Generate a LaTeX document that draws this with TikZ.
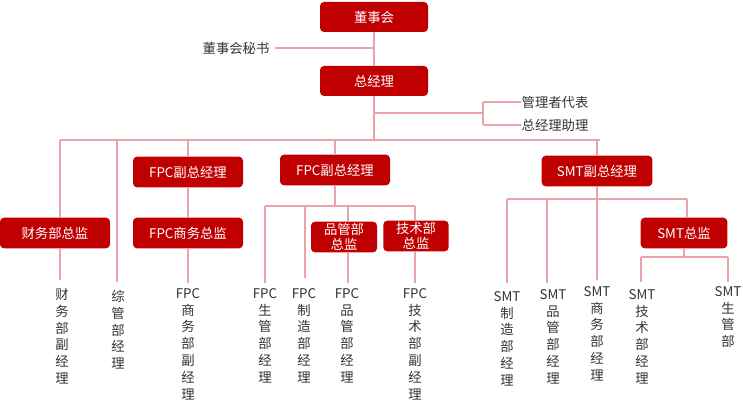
\documentclass[tikz,border=0pt]{standalone}
\usepackage{fontspec}
\newfontfamily\cjk{Noto Sans CJK SC}
\definecolor{boxred}{HTML}{C00000}
\definecolor{linepink}{HTML}{EBA3AA}
\begin{document}
\begin{tikzpicture}[x=0.75pt,y=-0.75pt,
    box/.style={fill=boxred,rounded corners=3pt,text=white,font=\cjk\fontsize{10}{11}\selectfont,inner sep=0pt},
    lab/.style={font=\cjk\fontsize{10}{12.6}\selectfont,text=black!80,align=center,inner sep=0pt,anchor=north},
    side/.style={font=\cjk\fontsize{10}{12}\selectfont,text=black!80,inner sep=0pt},
    link/.style={draw=linepink,line width=0.9pt}]
    \useasboundingbox (0,0) rectangle (743,403);
    % top
    \node[box,minimum width=81pt,minimum height=22.5pt] (board) at (374,17) {董事会};
    \node[box,minimum width=81pt,minimum height=22.5pt] (gm) at (374,81) {总经理};
    \node[side] (sec) at (236,48) {董事会秘书};
    \node[side] (rep) at (555,102) {管理者代表};
    \node[side] (asst) at (555,125) {总经理助理};
    \coordinate (secj) at (374,48);
    \coordinate (repj) at (374,113);
    \coordinate (brk) at (483,113);
    \draw[link] (board) -- (gm);
    \draw[link] (sec.east) ++(4pt,0) -- (secj);
    \draw[link] (repj) -- (brk);
    \draw[link] (483,102) -- (483,125);
    \draw[link] (483,102) -- (rep.west);
    \draw[link] (483,125) -- (asst.west);
    % level 2
    \node[box,minimum width=82.5pt,minimum height=23pt] (fin) at (55,233) {财务部总监};
    \node[box,minimum width=82.5pt,minimum height=23pt] (fvpa) at (188,172) {FPC副总经理};
    \node[box,minimum width=82.5pt,minimum height=23pt] (fbiz) at (188,233) {FPC商务总监};
    \node[box,minimum width=82.5pt,minimum height=23pt] (fvpb) at (335,170) {FPC副总经理};
    \node[box,minimum width=83pt,minimum height=23pt] (svp) at (597,171) {SMT副总经理};
    \node[box,minimum width=49.5pt,minimum height=23pt,align=center,font=\cjk\fontsize{10}{11.5}\selectfont] (qual) at (344,237) {品管部\\总监};
    \node[box,minimum width=49pt,minimum height=23pt,align=center,font=\cjk\fontsize{10}{11.5}\selectfont] (tech) at (416,236) {技术部\\总监};
    \node[box,minimum width=65pt,minimum height=23pt] (sdir) at (684,233) {SMT总监};
    \coordinate (bus) at (374,140);
    \draw[link] (gm) -- (bus);
    \draw[link] (60,140) -- (600,140);
    \draw[link] (60,140) -- (60,217);
    \draw[link] (117,140) -- (117,282) coordinate (zg);
    \draw[link] (188,140) -- (fvpa);
    \draw[link] (fvpa) -- (fbiz);
    \draw[link] (335,140) -- (fvpb);
    \draw[link] (597,140) -- (svp);
    % FPC branch
    \draw[link] (fvpb) -- (335,206);
    \draw[link] (265,206) -- (415,206);
    \draw[link] (265,206) -- (265,283);
    \draw[link] (305,206) -- (305,278);
    \draw[link] (348,206) -- (348,222);
    \draw[link] (415,206) -- (415,221);
    \draw[link] (60,248) -- (60,280);
    \draw[link] (fbiz) -- (188,283);
    \draw[link] (348,253) -- (348,283);
    \draw[link] (415,252) -- (415,283);
    % SMT branch
    \draw[link] (svp) -- (597,280);
    \draw[link] (507,199) -- (687,199);
    \draw[link] (507,199) -- (507,283);
    \draw[link] (547,199) -- (547,283);
    \draw[link] (687,199) -- (687,218);
    \draw[link] (sdir) -- (684,257);
    \draw[link] (641,257) -- (728,257);
    \draw[link] (641,257) -- (641,282);
    \draw[link] (728,257) -- (728,282);
    % bottom labels
    \node[lab] (t1) at (62,288) {财\\务\\部\\副\\经\\理};
    \node[lab] (t2) at (118,290) {综\\管\\部\\经\\理};
    \node[lab] (t3) at (188,288) {FPC\\商\\务\\部\\副\\经\\理};
    \node[lab] (t4) at (265,288) {FPC\\生\\管\\部\\经\\理};
    \node[lab] (t5) at (304,288) {FPC\\制\\造\\部\\经\\理};
    \node[lab] (t6) at (347,288) {FPC\\品\\管\\部\\经\\理};
    \node[lab] (t7) at (415,288) {FPC\\技\\术\\部\\副\\经\\理};
    \node[lab] (s1) at (507,291) {SMT\\制\\造\\部\\经\\理};
    \node[lab] (s2) at (553,289) {SMT\\品\\管\\部\\经\\理};
    \node[lab] (s3) at (597,286) {SMT\\商\\务\\部\\经\\理};
    \node[lab] (s4) at (642,289) {SMT\\技\\术\\部\\经\\理};
    \node[lab] (s5) at (728,286) {SMT\\生\\管\\部};
\end{tikzpicture}
\end{document}
